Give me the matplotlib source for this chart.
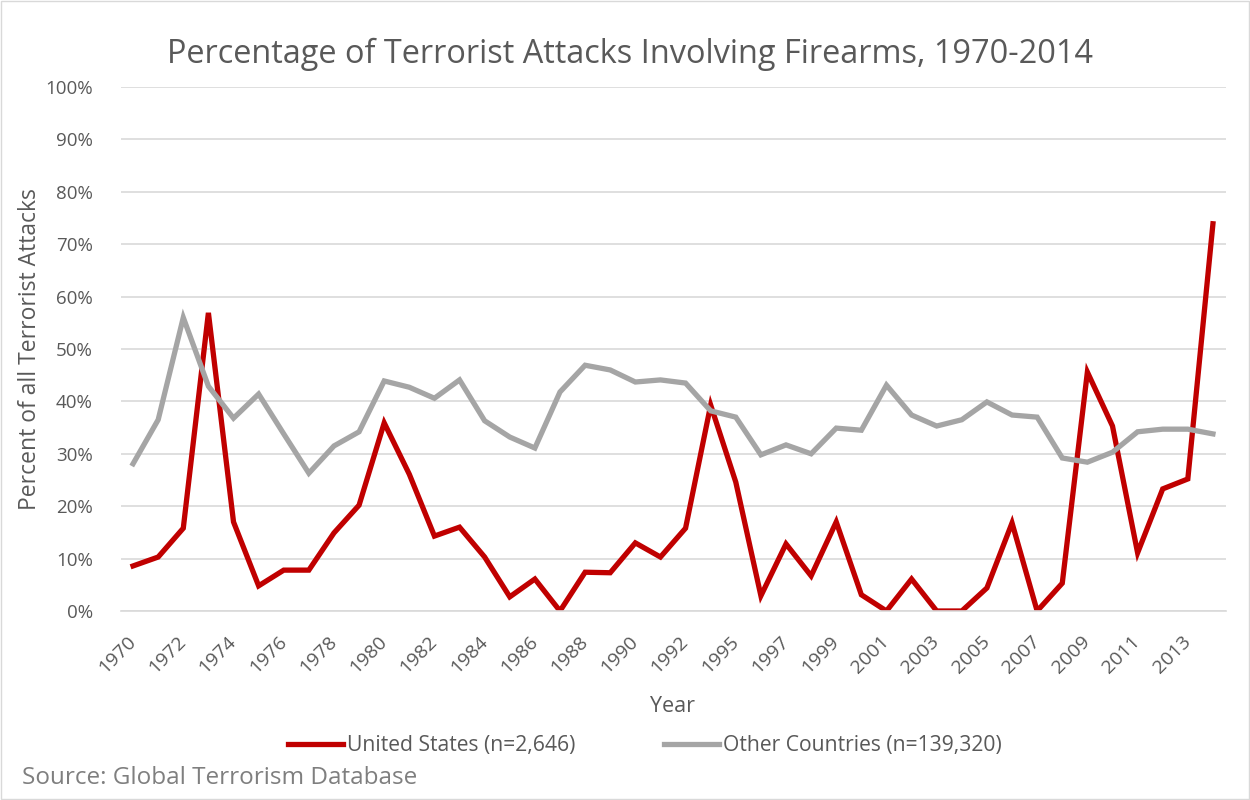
import matplotlib.pyplot as plt
from matplotlib.patches import Rectangle

# GTD has no 1993 data, so that year is skipped
years = [str(y) for y in range(1970, 1993)] + [str(y) for y in range(1994, 2015)]

us = [8.6, 10.3, 15.8, 56.9, 17.0, 4.8, 7.8, 7.8, 14.9, 20.2,
      35.9, 26.1, 14.3, 16.0, 10.3, 2.7, 6.1, 0.0, 7.4, 7.3,
      13.0, 10.3, 15.8, 39.3, 24.6, 2.9, 12.8, 6.7, 17.0, 3.1,
      0.0, 6.1, 0.0, 0.0, 4.4, 16.8, 0.0, 5.3, 45.6, 35.3,
      11.1, 23.3, 25.2, 73.9]

other = [28.1, 36.5, 56.0, 42.9, 36.8, 41.4, 33.8, 26.3, 31.5, 34.2,
         43.9, 42.7, 40.6, 44.1, 36.3, 33.2, 31.1, 41.8, 46.9, 46.0,
         43.7, 44.1, 43.5, 38.2, 37.0, 29.8, 31.7, 30.0, 34.9, 34.5,
         43.1, 37.4, 35.3, 36.5, 39.9, 37.4, 37.0, 29.2, 28.4, 30.3,
         34.2, 34.7, 34.7, 33.8]

yticks = list(range(0, 101, 10))

txt = '#595959'
plt.rcParams['font.family'] = ['Open Sans', 'DejaVu Sans']

fig = plt.figure(figsize=(12.5, 8), dpi=100)
fig.patches.append(Rectangle((0.001, 0.001), 0.998, 0.998, transform=fig.transFigure,
                             fill=False, edgecolor='#d9d9d9', linewidth=1))
ax = fig.add_axes([0.0964, 0.23625, 0.884, 0.655])

x = list(range(len(years)))
ax.plot(x, us, color='#c00000', lw=3.8, solid_joinstyle='miter', label='United States (n=2,646)')
ax.plot(x, other, color='#a5a5a5', lw=3.8, solid_joinstyle='miter', label='Other Countries (n=139,320)')

ax.set_xlim(-0.5, len(years) - 0.5)
ax.set_ylim(0, 100)
ax.set_yticks(yticks)
ax.set_yticklabels([f'{v}%' for v in yticks], fontsize=13.5, color=txt)
ax.grid(axis='y', color='#d9d9d9', lw=1.2)
ax.set_axisbelow(True)
for s in ['top', 'right', 'left']:
    ax.spines[s].set_visible(False)
ax.spines['bottom'].set_color('#d9d9d9')
ax.spines['bottom'].set_linewidth(1.2)
ax.tick_params(axis='both', length=0)
ax.tick_params(axis='y', pad=20)

ax.set_xticks(x[::2])
ax.set_xticklabels(years[::2], rotation=45, ha='right', va='center',
                   rotation_mode='anchor', fontsize=14, color=txt)
ax.tick_params(axis='x', pad=20)

ax.set_xlabel('Year', fontsize=15.5, color=txt, labelpad=14)
ax.set_ylabel('Percent of all Terrorist Attacks', fontsize=16.5, color=txt, labelpad=2)

fig.text(0.504, 0.932, 'Percentage of Terrorist Attacks Involving Firearms, 1970-2014',
         ha='center', va='center', fontsize=23.4, color=txt)

fig.legend(loc='center', bbox_to_anchor=(0.516, 0.0675), ncol=2, frameon=False,
           fontsize=15.2, labelcolor=txt, handlelength=2.6, handletextpad=0.2,
           columnspacing=4.2)

fig.text(0.018, 0.027, 'Source: Global Terrorism Database', ha='left', va='center',
         fontsize=17.5, color='#7f7f7f')

fig.savefig('out.png', dpi=100)
